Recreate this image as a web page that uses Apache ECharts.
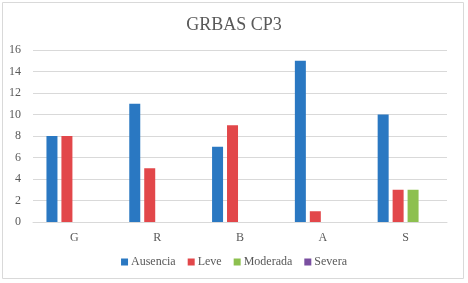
<!DOCTYPE html>
<html>
<head>
<meta charset="utf-8">
<script src="https://cdn.jsdelivr.net/npm/echarts@6/dist/echarts.min.js"></script>
<style>
html,body{margin:0;padding:0;background:#fff;}
#main{width:468px;height:283px;}
</style>
</head>
<body>
<div id="main"></div>
<script>
var categories = ['G', 'R', 'B', 'A', 'S'];
var ausencia = [8, 11, 7, 15, 10];
var leve = [8, 5, 9, 1, 3];
var moderada = [0, 0, 0, 0, 3];
var severa = [0, 0, 0, 0, 0];
var yTicks = [0, 2, 4, 6, 8, 10, 12, 14, 16];

var font = '"Liberation Serif", "DejaVu Serif", serif';
var myChart = echarts.init(document.getElementById('main'));

function bar(name, data, color) {
    return {
        name: name,
        type: 'bar',
        data: data,
        barWidth: 11,
        barGap: '36%',
        itemStyle: {color: color},
        animation: false
    };
}

var option = {
    textStyle: {fontFamily: font},
    graphic: [{
        type: 'rect',
        shape: {x: 2.5, y: 2.5, width: 461, height: 276},
        style: {fill: 'none', stroke: '#d9d9d9', lineWidth: 1},
        silent: true
    }],
    title: {
        text: 'GRBAS CP3',
        left: 'center',
        top: 11,
        textStyle: {fontFamily: font, fontSize: 18, fontWeight: 'normal', color: '#595959'}
    },
    legend: {
        data: ['Ausencia', 'Leve', 'Moderada', 'Severa'],
        bottom: 10,
        left: 'center',
        itemWidth: 7,
        itemHeight: 7,
        itemGap: 12,
        icon: 'rect',
        textStyle: {fontFamily: font, fontSize: 12, color: '#595959', padding: [0, 0, 0, -2]}
    },
    grid: {left: 33, right: 21, top: 50, bottom: 61},
    xAxis: {
        type: 'category',
        data: categories,
        axisLine: {lineStyle: {color: '#d9d9d9'}},
        axisTick: {show: false},
        axisLabel: {fontFamily: font, fontSize: 12, color: '#595959', margin: 10}
    },
    yAxis: {
        type: 'value',
        min: yTicks[0],
        max: yTicks[yTicks.length - 1],
        interval: 2,
        axisLine: {show: false},
        axisTick: {show: false},
        splitLine: {lineStyle: {color: '#d9d9d9'}},
        axisLabel: {fontFamily: font, fontSize: 12, color: '#595959', margin: 12}
    },
    series: [
        bar('Ausencia', ausencia, '#2a78c2'),
        bar('Leve', leve, '#e2474a'),
        bar('Moderada', moderada, '#8dc04f'),
        bar('Severa', severa, '#7a4fa0')
    ]
};
myChart.setOption(option, true);
</script>
</body>
</html>
